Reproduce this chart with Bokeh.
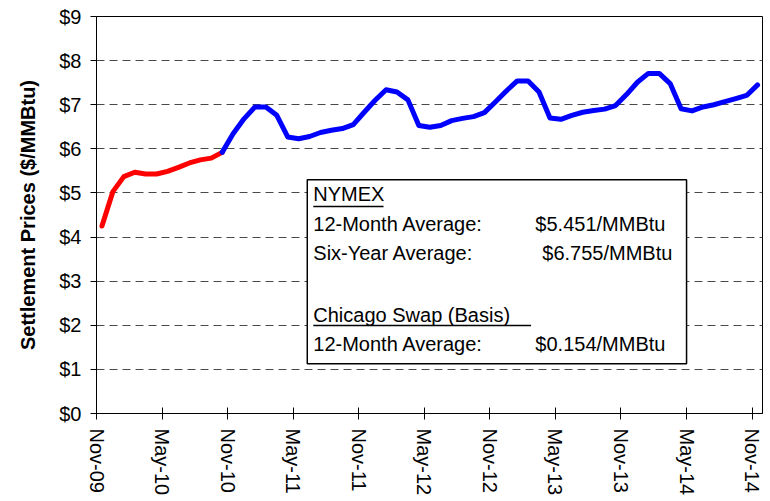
from bokeh.plotting import figure
from bokeh.models import Range1d, FixedTicker, Label, BoxAnnotation, ColumnDataSource
from bokeh.embed import file_html
from bokeh.resources import INLINE

# ---- data ----
months = ["Nov-09", "Dec-09", "Jan-10", "Feb-10", "Mar-10", "Apr-10", "May-10", "Jun-10",
          "Jul-10", "Aug-10", "Sep-10", "Oct-10", "Nov-10", "Dec-10", "Jan-11", "Feb-11",
          "Mar-11", "Apr-11", "May-11", "Jun-11", "Jul-11", "Aug-11", "Sep-11", "Oct-11",
          "Nov-11", "Dec-11", "Jan-12", "Feb-12", "Mar-12", "Apr-12", "May-12", "Jun-12",
          "Jul-12", "Aug-12", "Sep-12", "Oct-12", "Nov-12", "Dec-12", "Jan-13", "Feb-13",
          "Mar-13", "Apr-13", "May-13", "Jun-13", "Jul-13", "Aug-13", "Sep-13", "Oct-13",
          "Nov-13", "Dec-13", "Jan-14", "Feb-14", "Mar-14", "Apr-14", "May-14", "Jun-14",
          "Jul-14", "Aug-14", "Sep-14", "Oct-14", "Nov-14"]
prices = [4.25, 5.03, 5.37, 5.47, 5.43, 5.43, 5.49, 5.58, 5.68, 5.75, 5.79, 5.92,
          6.34, 6.68, 6.95, 6.95, 6.76, 6.27, 6.23, 6.28, 6.37, 6.42, 6.46, 6.55,
          6.83, 7.10, 7.34, 7.29, 7.11, 6.53, 6.49, 6.53, 6.64, 6.69, 6.73, 6.82,
          7.06, 7.31, 7.54, 7.54, 7.29, 6.70, 6.67, 6.76, 6.83, 6.87, 6.90, 6.98,
          7.23, 7.51, 7.71, 7.71, 7.48, 6.91, 6.86, 6.95, 7.00, 7.07, 7.14, 7.21,
          7.45]
historical_count = 12  # Nov-09 .. Oct-10 (red)
x_tick_labels = ["Nov-09", "May-10", "Nov-10", "May-11", "Nov-11", "May-12",
                 "Nov-12", "May-13", "Nov-13", "May-14", "Nov-14"]
y_tick_labels = ["$0", "$1", "$2", "$3", "$4", "$5", "$6", "$7", "$8", "$9"]

box_lines = [
    ("NYMEX", None),
    ("12-Month Average:", "$5.451/MMBtu"),
    ("Six-Year Average:", "$6.755/MMBtu"),
    ("Chicago Swap (Basis)", None),
    ("12-Month Average:", "$0.154/MMBtu"),
]

# month positions (mid-month) on a month index axis
xs = [i + 0.5 for i in range(len(months))]
red_src = ColumnDataSource(dict(x=xs[:historical_count], y=prices[:historical_count]))
blue_src = ColumnDataSource(dict(x=xs[historical_count - 1:], y=prices[historical_count - 1:]))

FONT = "Liberation Sans"

p = figure(width=770, height=501, output_backend="svg", toolbar_location=None,
           x_range=Range1d(0, 60.95), y_range=Range1d(0, 9),
           min_border_left=96, min_border_right=8, min_border_top=16, min_border_bottom=88)
p.background_fill_color = "white"
p.border_fill_color = "white"
p.outline_line_color = "black"
p.outline_line_width = 1

p.xgrid.visible = False
p.ygrid.ticker = FixedTicker(ticks=list(range(len(y_tick_labels))))
p.ygrid.grid_line_color = "#4a4a4a"
p.ygrid.grid_line_dash = "8 5"
p.ygrid.grid_line_width = 1

# x axis
xa = p.xaxis[0]
xa.ticker = FixedTicker(ticks=[6 * i for i in range(len(x_tick_labels))])
xa.major_label_overrides = {6 * i: lab for i, lab in enumerate(x_tick_labels)}
xa.major_label_orientation = "vertical"
xa.major_label_text_font = FONT
xa.major_label_text_font_size = "20px"
xa.major_label_text_color = "black"
xa.major_tick_in = 6
xa.major_tick_out = 6
xa.minor_tick_line_color = None
xa.axis_line_color = "black"
xa.major_tick_line_color = "black"
xa.major_label_standoff = 9

# y axis
ya = p.yaxis[0]
ya.ticker = FixedTicker(ticks=list(range(len(y_tick_labels))))
ya.major_label_overrides = {i: lab for i, lab in enumerate(y_tick_labels)}
ya.major_label_text_font = FONT
ya.major_label_text_font_size = "20px"
ya.major_label_text_color = "black"
ya.major_tick_in = 0
ya.major_tick_out = 6
ya.minor_tick_line_color = None
ya.axis_line_color = "black"
ya.major_tick_line_color = "black"
ya.major_label_standoff = 9
ya.axis_label = "Settlement Prices ($/MMBtu)"
ya.axis_label_text_font = FONT
ya.axis_label_text_font_size = "20px"
ya.axis_label_text_font_style = "bold"
ya.axis_label_text_color = "black"
ya.axis_label_standoff = 17

# lines
p.line("x", "y", source=red_src, line_color="#ff0000", line_width=5, line_join="round", line_cap="round")
p.line("x", "y", source=blue_src, line_color="#0000ff", line_width=5, line_join="round", line_cap="round")

# text box
p.add_layout(BoxAnnotation(left=19.29, right=54.0, bottom=1.13, top=5.30,
                           fill_color="white", fill_alpha=1.0,
                           line_color="black", line_width=1.5, line_alpha=1.0))

baselines = [4.97, 4.30, 3.63, 2.23, 1.57]
value_x = [None, 40.16, 40.80, None, 40.16]
for (lab, val), yb, vx in zip(box_lines, baselines, value_x):
    p.add_layout(Label(x=19.84, y=yb, text=lab, text_font=FONT, text_font_size="20px",
                       text_color="black", text_baseline="alphabetic", text_align="left"))
    if val is not None:
        p.add_layout(Label(x=vx, y=yb, text=val, text_font=FONT, text_font_size="20px",
                           text_color="black", text_baseline="alphabetic", text_align="left"))

# underlines for the two headings
for yb, right in [(4.693, 26.27), (1.995, 39.77)]:
    p.add_layout(BoxAnnotation(left=19.84, right=right, bottom=yb - 0.018, top=yb + 0.018,
                               fill_color="black", fill_alpha=1.0, line_alpha=0))

open("out.html", "w").write(file_html(p, INLINE))
